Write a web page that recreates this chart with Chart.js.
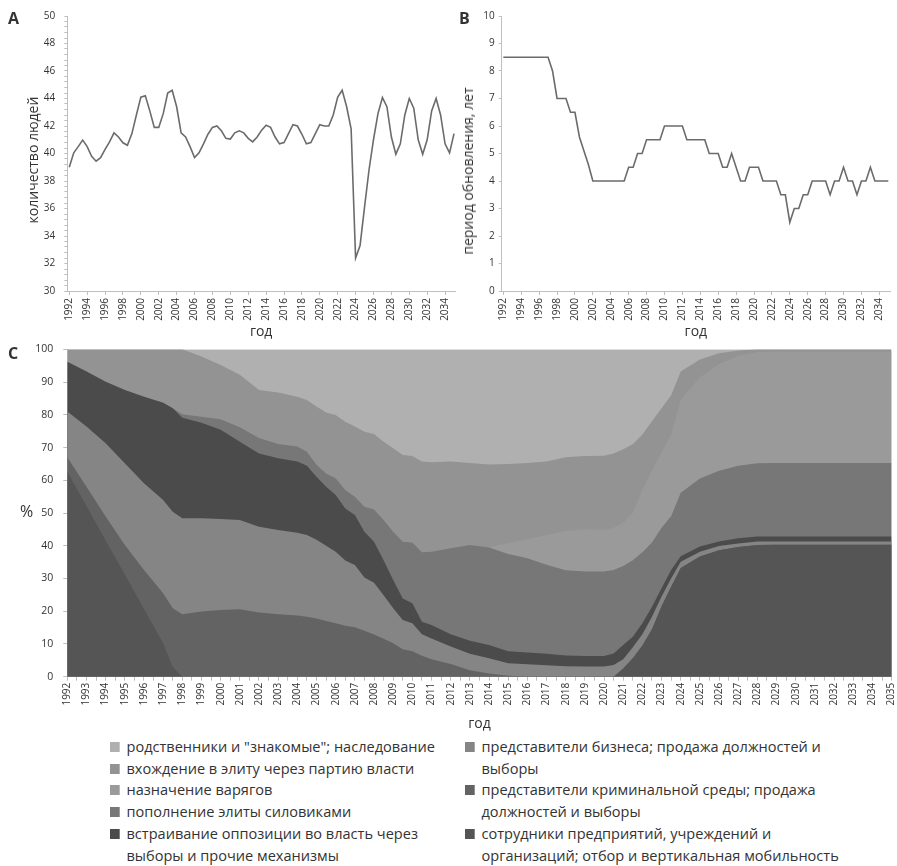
<!DOCTYPE html>
<html>
<head>
<meta charset="utf-8">
<script src="https://cdn.jsdelivr.net/npm/chart.js@4.4.1/dist/chart.umd.min.js"></script>
<style>
  html,body{margin:0;padding:0;background:#fff;}
  body{width:897px;height:866px;position:relative;overflow:hidden;font-family:'Open Sans',sans-serif;color:#333;}
  canvas{position:absolute;}
  .plbl{position:absolute;font-weight:bold;font-size:16px;color:#333;line-height:1;}
  .pct{position:absolute;font-size:16px;color:#333;line-height:1;}
  .ytl{position:absolute;font-size:14px;color:#333;line-height:1;white-space:nowrap;transform:translate(-50%,-50%) rotate(-90deg);}
  .leg{position:absolute;font-size:15px;line-height:21.7px;color:#333;white-space:nowrap;transform:scaleX(0.97);transform-origin:0 0;}
  .it{position:relative;padding-left:17px;}
  .sq{position:absolute;left:0;top:6px;width:10px;height:10px;}
</style>
</head>
<body>
<canvas id="cA" width="460" height="340" style="left:0;top:0"></canvas>
<canvas id="cB" width="437" height="340" style="left:460px;top:0"></canvas>
<canvas id="cC" width="897" height="392" style="left:0;top:340px"></canvas>

<div class="plbl" style="left:8px;top:10px">A</div>
<div class="plbl" style="left:459px;top:10px">B</div>
<div class="plbl" style="left:8px;top:345px">C</div>
<div class="pct" style="left:20px;top:503px">%</div>
<div class="ytl" style="left:33px;top:160px">количество людей</div>
<div class="ytl" style="left:468px;top:171px">период обновления, лет</div>

<div class="leg" id="legL" style="left:110px;top:736px"></div>
<div class="leg" id="legR" style="left:465px;top:736px"></div>

<script>
// ---------- Panel A / B : half-year points ----------
const halfYears = [1992,1992.5,1993,1993.5,1994,1994.5,1995,1995.5,1996,1996.5,
  1997,1997.5,1998,1998.5,1999,1999.5,2000,2000.5,2001,2001.5,
  2002,2002.5,2003,2003.5,2004,2004.5,2005,2005.5,2006,2006.5,
  2007,2007.5,2008,2008.5,2009,2009.5,2010,2010.5,2011,2011.5,
  2012,2012.5,2013,2013.5,2014,2014.5,2015,2015.5,2016,2016.5,
  2017,2017.5,2018,2018.5,2019,2019.5,2020,2020.5,2021,2021.5,
  2022,2022.5,2023,2023.5,2024,2024.5,2025,2025.5,2026,2026.5,
  2027,2027.5,2028,2028.5,2029,2029.5,2030,2030.5,2031,2031.5,
  2032,2032.5,2033,2033.5,2034,2034.5,2035];

const peopleCount = [39.0,40.05,40.5,40.97,40.5,39.8,39.44,39.7,40.3,40.85,
  41.5,41.2,40.78,40.6,41.45,42.8,44.1,44.2,43.1,41.9,
  41.9,42.9,44.4,44.6,43.4,41.5,41.2,40.5,39.7,40.05,
  40.7,41.4,41.9,42.0,41.65,41.1,41.05,41.5,41.65,41.5,
  41.1,40.85,41.2,41.7,42.05,41.9,41.2,40.7,40.8,41.45,
  42.1,42.0,41.4,40.7,40.8,41.45,42.1,42.0,42.0,42.8,
  44.1,44.6,43.4,41.8,32.4,33.3,36.1,38.8,41.0,42.9,
  44.07,43.4,41.2,39.95,40.7,42.8,44.0,43.3,41.0,39.95,
  41.0,43.1,44.0,42.8,40.7,40.05,41.45];

const renewalPeriod = [8.5,8.5,8.5,8.5,8.5,8.5,8.5,8.5,8.5,8.5,
  8.5,8.0,7.0,7.0,7.0,6.5,6.5,5.6,5.1,4.6,
  4.0,4.0,4.0,4.0,4.0,4.0,4.0,4.0,4.5,4.5,
  5.0,5.0,5.5,5.5,5.5,5.5,6.0,6.0,6.0,6.0,
  6.0,5.5,5.5,5.5,5.5,5.5,5.0,5.0,5.0,4.5,
  4.5,5.0,4.5,4.0,4.0,4.5,4.5,4.5,4.0,4.0,
  4.0,4.0,3.5,3.5,2.5,3.0,3.0,3.5,3.5,4.0,
  4.0,4.0,4.0,3.5,4.0,4.0,4.5,4.0,4.0,3.5,
  4.0,4.0,4.5,4.0,4.0,4.0,4.0];

const tickYearsAB = [1992,1994,1996,1998,2000,2002,2004,2006,2008,2010,2012,2014,2016,2018,2020,2022,2024,2026,2028,2030,2032,2034];

// ---------- Panel C : stacked shares, % ----------
const yearsC = [1992,1993,1994,1995,1996,1997,1997.5,1998,1999,2000,2001,2002,2003,2004,
  2004.5,2005,2005.5,2006,2006.5,2007,2007.5,2008,2008.5,2009,2009.5,2010,2010.5,
  2011,2012,2013,2014,2015,2016,2017,2018,2019,2020,
  2020.5,2021,2021.5,2022,2022.5,2023,2023.5,2024,
  2025,2026,2027,2028,2029,2030,2031,2032,2033,2034,2035];

const staffEnterprises = [62.6,52.1,41.6,31.2,20.7,10.2,3.0,0,0,0,0,0,0,0,
  0,0,0,0,0,0,0,0,0,0,0,0,0,
  0,0,0,0,0,0,0,0,0,0,
  0,2.5,5.6,9.5,14.5,21.5,27.5,33.2,
  36.7,38.6,39.6,40.2,40.3,40.3,40.3,40.3,40.3,40.3,40.3];
const criminal = [4.4,5.9,7.3,9.0,11.9,15.3,17.9,19.1,19.9,20.4,20.6,19.6,19.1,18.7,
  18.3,17.8,17.0,16.3,15.6,15.1,14.0,12.9,11.6,10.2,8.4,7.8,6.4,
  5.3,3.9,2.0,1.0,0.3,0,0,0,0,0,
  0,0,0,0,0,0,0,0,
  0,0,0,0,0,0,0,0,0,0,0];
const business = [14.0,18.4,22.4,25.0,26.5,28.5,29.5,29.3,28.5,27.8,27.3,26.2,25.7,25.3,
  25.0,24.0,23.0,21.9,19.9,19.0,16.3,15.8,13.3,10.7,8.9,8.5,6.6,
  6.4,5.3,5.0,4.6,3.8,3.8,3.5,3.2,3.1,3.1,
  3.6,2.8,3.4,3.5,3.8,3.0,2.5,1.9,
  1.5,1.3,1.1,1.1,1.0,1.0,1.0,1.0,1.0,1.0,1.0];
const opposition = [15.2,16.8,18.8,22.4,26.4,29.7,31.6,30.7,29.2,27.2,23.9,22.4,21.9,21.7,
  21.1,19.3,18.0,17.3,15.9,15.3,14.0,12.5,10.7,8.6,6.6,6.1,3.8,
  4.1,3.8,4.0,4.1,3.7,3.6,3.5,3.3,3.2,3.2,
  3.5,4.4,3.2,3.3,3.1,2.5,2.6,1.7,
  1.6,1.4,1.6,1.5,1.5,1.5,1.5,1.5,1.5,1.5,1.5];
const siloviki = [0,0,0,0,0,0,0,1.1,1.8,3.2,4.4,4.7,4.4,4.6,
  4.3,3.6,4.1,5.1,5.6,5.6,7.6,9.9,12.3,14.8,17.3,18.6,21.2,
  22.4,26.2,29.2,29.8,29.7,28.8,27.2,26.0,25.8,25.8,
  25.5,24.1,23.4,21.7,19.6,18.5,16.4,19.4,
  20.7,21.6,22.1,22.4,22.5,22.5,22.5,22.5,22.5,22.5,22.5];
const varyags = [0,0,0,0,0,0,0,0,0,0,0,0,0,0,
  0,0,0,0,0,0,0,0,0,0,0,0,0,
  0,0,0,0,3.3,5.8,9.1,12.0,12.9,12.7,
  12.9,13.2,14.4,19.0,22.0,23.0,25.0,28.3,
  31.0,32.6,33.6,34.0,34.0,34.0,34.0,34.0,34.0,34.0,34.0];
const partyOfPower = [3.8,6.8,9.9,12.4,14.5,16.3,18.0,19.8,18.4,16.6,16.0,14.7,15.7,15.2,
  15.8,17.8,18.6,19.3,20.9,21.4,22.9,23.0,23.9,25.5,26.5,26.4,27.7,
  27.3,26.5,25.1,25.3,24.2,23.3,22.4,22.5,22.4,22.7,
  22.7,22.5,21.0,17.0,15.0,13.5,12.0,8.7,
  5.4,3.3,1.6,0.8,0.7,0.7,0.7,0.7,0.7,0.7,0.7];
const relatives = [0,0,0,0,0,0,0,0,2.2,4.8,7.8,12.4,13.2,14.5,
  15.5,17.5,19.3,20.1,22.1,23.6,25.2,25.9,28.2,30.2,32.3,32.6,34.3,
  34.5,34.3,34.7,35.2,35.0,34.7,34.3,33.0,32.6,32.5,
  31.8,30.5,29.0,26.0,22.0,18.0,14.0,6.8,
  3.1,1.2,0.4,0,0,0,0,0,0,0,0];

// stacked bottom -> top
const seriesC = [
  {label:'сотрудники предприятий, учреждений и организаций; отбор и вертикальная мобильность', data:staffEnterprises, color:'#555555'},
  {label:'представители криминальной среды; продажа должностей и выборы', data:criminal, color:'#636363'},
  {label:'представители бизнеса; продажа должностей и выборы', data:business, color:'#858585'},
  {label:'встраивание оппозиции во власть через выборы и прочие механизмы', data:opposition, color:'#4b4b4b'},
  {label:'пополнение элиты силовиками', data:siloviki, color:'#777777'},
  {label:'назначение варягов', data:varyags, color:'#9a9a9a'},
  {label:'вхождение в элиту через партию власти', data:partyOfPower, color:'#939393'},
  {label:'родственники и "знакомые"; наследование', data:relatives, color:'#b0b0b0'}
];

// legend (HTML, two columns as in the figure)
const legendLeft = [
  [7, ['родственники и "знакомые"; наследование']],
  [6, ['вхождение в элиту через партию власти']],
  [5, ['назначение варягов']],
  [4, ['пополнение элиты силовиками']],
  [3, ['встраивание оппозиции во власть через','выборы и прочие механизмы']]
];
const legendRight = [
  [2, ['представители бизнеса; продажа должностей и','выборы']],
  [1, ['представители криминальной среды; продажа','должностей и выборы']],
  [0, ['сотрудники предприятий, учреждений и','организаций; отбор и вертикальная мобильность']]
];
function buildLegend(el, items){
  items.forEach(([idx, lines])=>{
    const d = document.createElement('div'); d.className='it';
    const s = document.createElement('span'); s.className='sq'; s.style.background = seriesC[idx].color;
    d.appendChild(s);
    lines.forEach((t,i)=>{ if(i) d.appendChild(document.createElement('br')); d.appendChild(document.createTextNode(t)); });
    el.appendChild(d);
  });
}
buildLegend(document.getElementById('legL'), legendLeft);
buildLegend(document.getElementById('legR'), legendRight);

// ---------- Chart setup ----------
Chart.defaults.font.family = "'Open Sans', sans-serif";
Chart.defaults.color = '#333';
Chart.defaults.animation = false;

function stepList(a, b, s){ const out=[]; for(let v=a; v<=b+1e-9; v+=s) out.push(Math.round(v*1000)/1000); return out; }
const AXIS = '#bfbfbf';

function lineChart(id, xs, ys, cfg){
  return new Chart(document.getElementById(id), {
    type:'line',
    data:{datasets:[{data:xs.map((x,i)=>({x:x, y:ys[i]})), borderColor:'#6b6b6b', borderWidth:1.6,
      pointRadius:0, tension:0, fill:false}]},
    options:{
      responsive:false, animation:false,
      layout:{padding:cfg.padding},
      plugins:{legend:{display:false}, tooltip:{enabled:false}},
      scales:{
        x:{type:'linear', min:cfg.xmin, max:cfg.xmax,
          afterBuildTicks:s=>{ s.ticks = tickYearsAB.map(v=>({value:v})); },
          afterFit:s=>{ s.height = cfg.xh; s.paddingLeft = 0; s.paddingRight = 0; },
          ticks:{autoSkip:false, minRotation:90, maxRotation:90, padding:3, font:{size:10}, callback:v=>String(v)},
          grid:{drawOnChartArea:false, drawTicks:true, tickLength:4, color:AXIS},
          border:{display:true, color:AXIS},
          title:{display:true, text:'год', font:{size:14}, padding:{top:0,bottom:0}}
        },
        y:{type:'linear', min:cfg.ymin, max:cfg.ymax,
          afterBuildTicks:s=>{ s.ticks = cfg.yticks.map(v=>({value:v})); },
          afterFit:s=>{ s.width = cfg.yw; s.paddingTop = 0; s.paddingBottom = 0; },
          ticks:{autoSkip:false, padding:cfg.ypad, font:{size:10}, callback:cfg.ylabel},
          grid:{drawOnChartArea:false, drawTicks:true, tickLength:3, color:AXIS},
          border:{display:true, color:AXIS}
        }
      }
    }
  });
}

lineChart('cA', halfYears, peopleCount, {
  padding:{top:16, right:5, left:0, bottom:0},
  xmin:1991.78, xmax:2035.11, xh:49,
  ymin:30, ymax:50, yw:67.3, ypad:9,
  yticks:stepList(30,50,0.4),
  ylabel:v=>{ const r=Math.round(v); return (Math.abs(v-r)<1e-6 && r%2===0) ? String(r) : ''; }
});

lineChart('cB', halfYears, renewalPeriod, {
  padding:{top:16, right:7, left:0, bottom:0},
  xmin:1991.82, xmax:2035.19, xh:49,
  ymin:0, ymax:10, yw:41.7, ypad:4,
  yticks:stepList(0,10,1),
  ylabel:v=>String(Math.round(v))
});

new Chart(document.getElementById('cC'), {
  type:'line',
  data:{datasets:seriesC.map((s,i)=>({
    label:s.label,
    data:yearsC.map((x,j)=>({x:x, y:s.data[j]})),
    backgroundColor:s.color, borderColor:'rgba(0,0,0,0)', borderWidth:0,
    pointRadius:0, tension:0, fill:'origin'
  }))},
  options:{
    responsive:false, animation:false,
    layout:{padding:{top:9.3, right:5.4, left:0, bottom:0}},
    plugins:{legend:{display:false}, tooltip:{enabled:false}},
    scales:{
      x:{type:'linear', min:1992, max:2035,
        afterBuildTicks:s=>{ s.ticks = stepList(1992,2035,0.5).map(v=>({value:v})); },
        afterFit:s=>{ s.height = 55.3; s.paddingLeft = 0; s.paddingRight = 0; },
        ticks:{autoSkip:false, minRotation:90, maxRotation:90, padding:2, font:{size:10},
          callback:v=> Number.isInteger(Math.round(v*1000)/1000) ? String(Math.round(v)) : ''},
        grid:{drawOnChartArea:false, drawTicks:true, tickLength:4, color:AXIS},
        border:{display:true, color:AXIS},
        title:{display:true, text:'год', font:{size:14}, padding:{top:0,bottom:0}}
      },
      y:{type:'linear', stacked:true, min:0, max:100,
        afterBuildTicks:s=>{ s.ticks = stepList(0,100,10).map(v=>({value:v})); },
        afterFit:s=>{ s.width = 67.3; s.paddingTop = 0; s.paddingBottom = 0; },
        ticks:{autoSkip:false, padding:10, font:{size:10.5}, callback:v=>String(Math.round(v))},
        grid:{drawOnChartArea:false, drawTicks:true, tickLength:4, color:AXIS},
        border:{display:true, color:AXIS}
      }
    }
  }
});
</script>
</body>
</html>
